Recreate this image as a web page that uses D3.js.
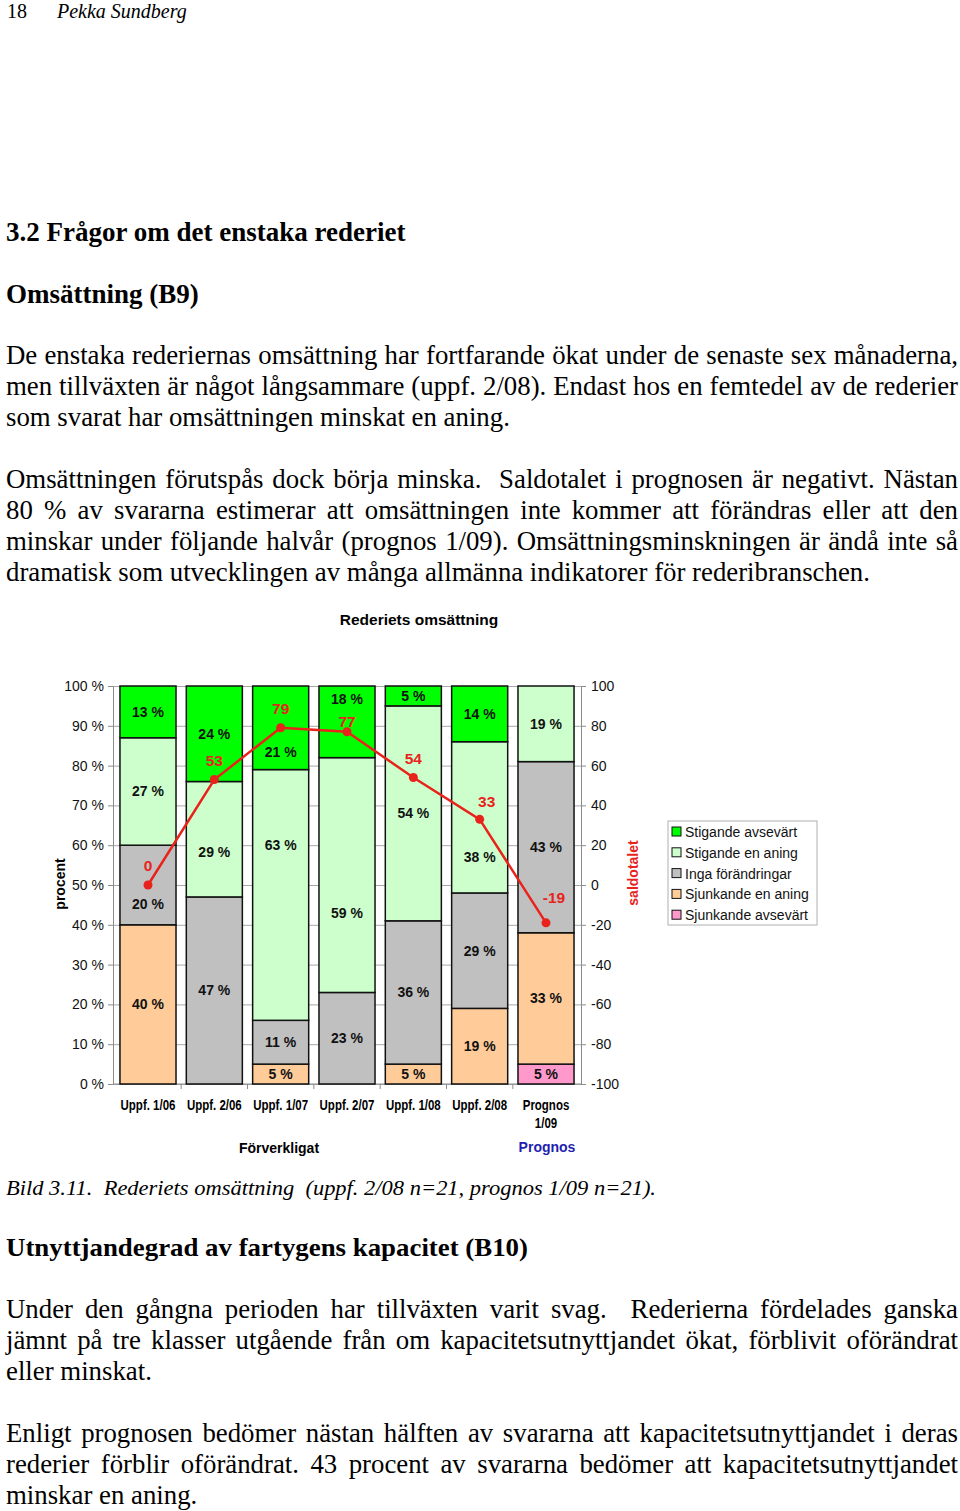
<!DOCTYPE html>
<html>
<head>
<meta charset="utf-8">
<script src="https://cdn.jsdelivr.net/npm/d3@7"></script>
<style>
  body { margin: 0; background: #fff; }
</style>
</head>
<body>
<svg id="page" width="960" height="1511"></svg>
<script>
// ---- chart data ----
let categories = ["Uppf. 1/06", "Uppf. 2/06", "Uppf. 1/07", "Uppf. 2/07", "Uppf. 1/08", "Uppf. 2/08", "Prognos 1/09"]
let seriesNames = ["Sjunkande avsevärt", "Sjunkande en aning", "Inga förändringar", "Stigande en aning", "Stigande avsevärt"]
let sjunkandeAvsevart = [0, 0, 0, 0, 0, 0, 5]
let sjunkandeAning = [40, 0, 5, 0, 5, 19, 33]
let ingaForandringar = [20, 47, 11, 23, 36, 29, 43]
let stigandeAning = [27, 29, 63, 59, 54, 38, 19]
let stigandeAvsevart = [13, 24, 21, 18, 5, 14, 0]
let saldotal = [0, 53, 79, 77, 54, 33, -19]
let leftTicks = [0, 10, 20, 30, 40, 50, 60, 70, 80, 90, 100]
let rightTicks = [-100, -80, -60, -40, -20, 0, 20, 40, 60, 80, 100]

let seriesColors = {
    "Sjunkande avsevärt": "#ff99cc",
    "Sjunkande en aning": "#ffcc99",
    "Inga förändringar": "#c0c0c0",
    "Stigande en aning": "#ccffcc",
    "Stigande avsevärt": "#00ff00"
}
let red = "#e8231c"

// ---- page text ----
let para1 = [
    ["De enstaka rederiernas omsättning har fortfarande ökat under de senaste sex månaderna,", true],
    ["men tillväxten är något långsammare (uppf. 2/08). Endast hos en femtedel av de rederier", true],
    ["som svarat har omsättningen minskat en aning.", false]]
let para2 = [
    ["Omsättningen förutspås dock börja minska.  Saldotalet i prognosen är negativt. Nästan", true],
    ["80 % av svararna estimerar att omsättningen inte kommer att förändras eller att den", true],
    ["minskar under följande halvår (prognos 1/09). Omsättningsminskningen är ändå inte så", true],
    ["dramatisk som utvecklingen av många allmänna indikatorer för rederibranschen.", false]]
let para3 = [
    ["Under den gångna perioden har tillväxten varit svag.  Rederierna fördelades ganska", true],
    ["jämnt på tre klasser utgående från om kapacitetsutnyttjandet ökat, förblivit oförändrat", true],
    ["eller minskat.", false]]
let para4 = [
    ["Enligt prognosen bedömer nästan hälften av svararna att kapacitetsutnyttjandet i deras", true],
    ["rederier förblir oförändrat. 43 procent av svararna bedömer att kapacitetsutnyttjandet", true],
    ["minskar en aning.", false]]

let svg = d3.select("#page")
let serif = "'Liberation Serif', 'Times New Roman', serif"
let sans = "'Liberation Sans', Arial, sans-serif"

function writeLine(str, y, justify) {
    let t = svg.append("text")
        .attr("x", 6)
        .attr("y", y)
        .style("font-family", serif)
        .style("font-size", "26.8px")
        .style("white-space", "pre")
        .text(str)
    if (justify) {
        let w = t.node().getComputedTextLength()
        let spaces = (str.match(/ /g) || []).length
        t.style("word-spacing", ((952 - w) / spaces) + "px")
    }
}
function writePara(lines, y0) {
    lines.forEach((l, i) => writeLine(l[0], y0 + i * 31, l[1]))
}

// header
svg.append("text").attr("x", 7).attr("y", 18)
    .style("font-family", serif).style("font-size", "20px").text("18")
svg.append("text").attr("x", 57).attr("y", 18)
    .style("font-family", serif).style("font-size", "20px").style("font-style", "italic")
    .text("Pekka Sundberg")

svg.append("text").attr("x", 6).attr("y", 241)
    .style("font-family", serif).style("font-size", "27px").style("font-weight", "bold")
    .text("3.2 Frågor om det enstaka rederiet")
svg.append("text").attr("x", 6).attr("y", 303)
    .style("font-family", serif).style("font-size", "27px").style("font-weight", "bold")
    .text("Omsättning (B9)")

writePara(para1, 364)
writePara(para2, 488)

svg.append("text").attr("x", 6).attr("y", 1195)
    .style("font-family", serif).style("font-size", "22px").style("font-style", "italic")
    .style("white-space", "pre")
    .attr("textLength", 650).attr("lengthAdjust", "spacingAndGlyphs")
    .text("Bild 3.11.  Rederiets omsättning  (uppf. 2/08 n=21, prognos 1/09 n=21).")
svg.append("text").attr("x", 6).attr("y", 1256)
    .style("font-family", serif).style("font-size", "26px").style("font-weight", "bold")
    .attr("textLength", 522).attr("lengthAdjust", "spacingAndGlyphs")
    .text("Utnyttjandegrad av fartygens kapacitet (B10)")

writePara(para3, 1318)
writePara(para4, 1442)

// ---- chart ----
let yLeft = d3.scaleLinear().domain([0, 100]).range([1084, 686])
let yRight = d3.scaleLinear().domain([-100, 100]).range([1084, 686])
let xScale = d3.scaleBand()
    .domain(categories)
    .range([113, 581])
    .paddingInner(0.155)
    .paddingOuter(0.105)
let bw = xScale.bandwidth()

let chart = svg.append("g").style("font-family", sans)

// title
chart.append("text")
    .attr("x", 419).attr("y", 625)
    .attr("text-anchor", "middle")
    .style("font-size", "15.5px").style("font-weight", "bold")
    .text("Rederiets omsättning")

// gridlines
chart.append("g")
    .attr("transform", "translate(113,0)")
    .call(d3.axisLeft(yLeft).tickValues(leftTicks).tickSize(-(581 - 113)).tickFormat(""))
    .call(g => g.select(".domain").remove())
    .selectAll("line").attr("stroke", "#a8a8a8")

// left axis
chart.append("g")
    .attr("transform", "translate(113,0)")
    .call(d3.axisLeft(yLeft).tickValues(leftTicks).tickSize(5).tickSizeOuter(0).tickPadding(4)
        .tickFormat(d => d + " %"))
    .call(g => g.select(".domain").attr("stroke", "#8c8c8c"))
    .call(g => g.selectAll("line").attr("stroke", "#8c8c8c"))
    .selectAll("text")
    .style("font-size", "14px").style("font-family", sans).attr("fill", "#111")

// right axis (plain hyphen for the minus sign, as in the original)
chart.append("g")
    .attr("transform", "translate(581,0)")
    .call(d3.axisRight(yRight).tickValues(rightTicks).tickSize(5).tickSizeOuter(0).tickPadding(5)
        .tickFormat(d => String(d)))
    .call(g => g.select(".domain").attr("stroke", "#8c8c8c"))
    .call(g => g.selectAll("line").attr("stroke", "#8c8c8c"))
    .selectAll("text")
    .style("font-size", "14px").style("font-family", sans).attr("fill", "#111")

// bottom axis with ticks between the categories
chart.append("line")
    .attr("x1", 113).attr("x2", 581).attr("y1", yLeft(0)).attr("y2", yLeft(0))
    .attr("stroke", "#8c8c8c")
let gap = xScale.step() * xScale.paddingInner()
chart.selectAll(".cat-tick")
    .data(categories.slice(1))
    .join("line")
    .attr("class", "cat-tick")
    .attr("x1", d => xScale(d) - gap / 2).attr("x2", d => xScale(d) - gap / 2)
    .attr("y1", yLeft(0)).attr("y2", yLeft(0) + 5)
    .attr("stroke", "#8c8c8c")

// stacked bars
let table = categories.map((c, i) => ({
    cat: c,
    "Sjunkande avsevärt": sjunkandeAvsevart[i],
    "Sjunkande en aning": sjunkandeAning[i],
    "Inga förändringar": ingaForandringar[i],
    "Stigande en aning": stigandeAning[i],
    "Stigande avsevärt": stigandeAvsevart[i]
}))
let stacked = d3.stack().keys(seriesNames)(table)

// a few labels were moved by hand in the original so they don't collide with the line
let nudge = {"0|Inga förändringar": 19, "1|Stigande en aning": 13, "2|Stigande avsevärt": 24,
    "2|Stigande en aning": -50, "3|Stigande avsevärt": -23, "3|Stigande en aning": 38,
    "5|Stigande en aning": 40}

stacked.forEach(layer => {
    let segs = layer.map((d, i) => ({key: layer.key, i: i, cat: d.data.cat, y0: d[0], y1: d[1]}))
        .filter(d => d.y1 - d.y0 > 0)
    chart.append("g").selectAll("rect")
        .data(segs)
        .join("rect")
        .attr("x", d => xScale(d.cat))
        .attr("width", bw)
        .attr("y", d => yLeft(d.y1))
        .attr("height", d => yLeft(d.y0) - yLeft(d.y1))
        .attr("fill", seriesColors[layer.key])
        .attr("stroke", "#111")
        .attr("stroke-width", 1.5)
    chart.append("g").selectAll("text")
        .data(segs)
        .join("text")
        .attr("x", d => xScale(d.cat) + bw / 2)
        .attr("y", d => yLeft((d.y0 + d.y1) / 2) + 5 + (nudge[d.i + "|" + d.key] || 0))
        .attr("text-anchor", "middle")
        .style("font-size", "14px").style("font-weight", "bold")
        .attr("fill", "#111")
        .text(d => (d.y1 - d.y0) + " %")
})

// saldotal line
let pts = categories.map((c, i) => ({cat: c, v: saldotal[i], i: i}))
chart.append("path")
    .datum(pts)
    .attr("d", d3.line().x(d => xScale(d.cat) + bw / 2).y(d => yRight(d.v)))
    .attr("fill", "none")
    .attr("stroke", red)
    .attr("stroke-width", 2.5)
chart.selectAll(".pt")
    .data(pts)
    .join("circle")
    .attr("class", "pt")
    .attr("cx", d => xScale(d.cat) + bw / 2)
    .attr("cy", d => yRight(d.v))
    .attr("r", 4.5)
    .attr("fill", red)
let saldoNudge = {3: [0, 9], 5: [7, 2], 6: [8, -6]}
chart.selectAll(".pt-label")
    .data(pts)
    .join("text")
    .attr("class", "pt-label")
    .attr("x", d => xScale(d.cat) + bw / 2 + (saldoNudge[d.i] ? saldoNudge[d.i][0] : 0))
    .attr("y", d => yRight(d.v) - 14 + (saldoNudge[d.i] ? saldoNudge[d.i][1] : 0))
    .attr("text-anchor", "middle")
    .style("font-size", "15.5px").style("font-weight", "bold")
    .attr("fill", red)
    .text(d => d.v)

// category labels, squeezed horizontally like the narrow font of the original
chart.selectAll(".cat-label")
    .data(categories)
    .join("text")
    .attr("class", "cat-label")
    .attr("text-anchor", "middle")
    .attr("transform", d => "translate(" + (xScale(d) + bw / 2) + ",1110) scale(0.82,1)")
    .style("font-size", "14px").style("font-weight", "bold")
    .each(function (d) {
        let parts = d.startsWith("Prognos") ? ["Prognos", "1/09"] : [d]
        d3.select(this).selectAll("tspan").data(parts).join("tspan")
            .attr("x", 0)
            .attr("dy", (p, j) => j ? 18 : 0)
            .text(p => p)
    })

chart.append("text")
    .attr("x", 279).attr("y", 1153).attr("text-anchor", "middle")
    .style("font-size", "14px").style("font-weight", "bold")
    .text("Förverkligat")
chart.append("text")
    .attr("x", 547).attr("y", 1152).attr("text-anchor", "middle")
    .style("font-size", "14px").style("font-weight", "bold")
    .attr("fill", "#1f1fb0")
    .text("Prognos")

// axis titles
chart.append("text")
    .attr("transform", "translate(65,884) rotate(-90)")
    .attr("text-anchor", "middle")
    .style("font-size", "14px").style("font-weight", "bold")
    .text("procent")
chart.append("text")
    .attr("transform", "translate(638,873) rotate(-90)")
    .attr("text-anchor", "middle")
    .style("font-size", "14px").style("font-weight", "bold")
    .attr("fill", red)
    .text("saldotalet")

// legend (top entry = top of the stack)
let legend = chart.append("g").attr("transform", "translate(668,821)")
legend.append("rect")
    .attr("width", 149).attr("height", 104)
    .attr("fill", "#fff").attr("stroke", "#b0b0b0")
let legendItems = seriesNames.slice().reverse()
legend.selectAll(".lg-box")
    .data(legendItems)
    .join("rect")
    .attr("class", "lg-box")
    .attr("x", 4).attr("y", (d, i) => 6 + i * 20.8)
    .attr("width", 9).attr("height", 9)
    .attr("fill", d => seriesColors[d])
    .attr("stroke", "#111")
legend.selectAll(".lg-text")
    .data(legendItems)
    .join("text")
    .attr("class", "lg-text")
    .attr("x", 17).attr("y", (d, i) => 16 + i * 20.8)
    .style("font-size", "14px")
    .attr("fill", "#111")
    .text(d => d)
</script>
</body>
</html>
